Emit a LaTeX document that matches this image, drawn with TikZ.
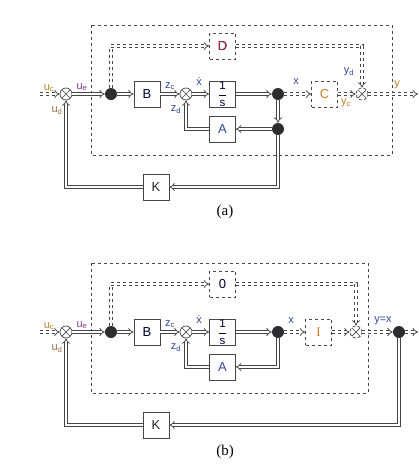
\documentclass[tikz,border=0pt]{standalone}
\usepackage{fontspec}
\setmainfont{Liberation Serif}
\setsansfont{Liberation Sans}
\usepackage{tikz}
\usetikzlibrary{arrows.meta, positioning}
\definecolor{linegray}{RGB}{70,70,70}
\definecolor{dotgray}{RGB}{45,45,48}
\definecolor{lblblue}{RGB}{55,70,150}
\definecolor{lblgold}{RGB}{185,130,40}
\definecolor{lblpurple}{RGB}{125,55,135}
\definecolor{boxred}{RGB}{170,45,60}
\definecolor{boxorange}{RGB}{205,125,35}

\tikzset{
  blk/.style={draw=linegray, line width=0.8pt, minimum size=26pt, inner sep=0pt,
    font=\sffamily\fontsize{13}{15}\selectfont, text=black!80!blue},
  dblk/.style={blk, dashed},
  sumpt/.style={circle, draw=linegray, line width=0.7pt, minimum size=12pt, inner sep=0pt,
    path picture={\draw[linegray, line width=0.7pt, solid]
      (path picture bounding box.north west) -- (path picture bounding box.south east)
      (path picture bounding box.north east) -- (path picture bounding box.south west);}},
  dsumpt/.style={sumpt, densely dashed},
  jdot/.style={circle, fill=dotgray, minimum size=12pt, inner sep=0pt},
  sig/.style={draw=linegray, double=white, double distance=2pt, line width=0.75pt, -{Implies}},
  sigd/.style={sig, dashed},
  lbl/.style={font=\sffamily\fontsize{11}{13}\selectfont, text=lblblue, inner sep=0pt},
}

\begin{document}
\begin{tikzpicture}[x=1pt, y=-1pt]
  \useasboundingbox (0,0) rectangle (419,469);
  \foreach \p/\dy/\dtxt/\bx in {a/0/D/392, b/238/0/368}{
    \begin{scope}[shift={(0,\dy)}]
      \draw[linegray, dashed, line width=0.6pt] (91,25) rectangle (\bx,155);
      \node[sumpt] (su\p) at (66,94) {};
      \node[jdot] (d1\p) at (111,94) {};
      \node[blk] (B\p) at (147,94) {B};
      \node[sumpt] (sz\p) at (186,94) {};
      \node[blk, font=\sffamily\fontsize{11.5}{13}\selectfont] (I\p) at (222.5,94)
        {$\displaystyle\frac{\textsf{1}}{\textsf{s}}$};
      \node[jdot] (d2\p) at (278,94) {};
      \node[blk, text=lblblue] (A\p) at (222.5,129) {A};
      \node[dblk] (D\p) at (222.5,46) {\dtxt};
      \node[blk, text=black!85] (K\p) at (156,187) {K};
      \coordinate (in\p) at (40,94);
      % forward path
      \draw[sigd] (in\p) -- (su\p);
      \draw[sig] (su\p) -- (d1\p);
      \draw[sig] (d1\p) -- (B\p);
      \draw[sig] (B\p) -- (sz\p);
      \draw[sig] (sz\p) -- (I\p);
      \draw[sig] (I\p) -- (d2\p);
      \draw[sig] (A\p.west) -| (sz\p.south);
      \draw[sig] (K\p.west) -| (su\p.south);
      \draw[sigd] (d1\p.north) |- (D\p.west);
      % labels
      \node[lbl, text=lblgold] at (49,88) {u\textsubscript{c}};
      \node[lbl, text=lblpurple] at (82,87) {u\textsubscript{e}};
      \node[lbl, text=lblgold!70!lblblue] at (57,111) {u\textsubscript{d}};
      \node[lbl] at (170,86) {z\textsubscript{c}};
      \node[lbl] at (176,110) {z\textsubscript{d}};
      \node[lbl] at (199,82) {\.x};
    \end{scope}
  }
  % (a)
  \node[dblk, text=boxred] at (Da) {D};
  \node[dblk, text=boxorange] (Ca) at (324.5,94) {C};
  \node[dsumpt] (sya) at (362,94) {};
  \node[jdot] (d3a) at (278,129) {};
  \coordinate (outa) at (418,94);
  \draw[sigd] (d2a) -- (Ca);
  \draw[sigd] (Ca) -- (sya);
  \draw[sigd] (Da.east) -| (sya.north);
  \draw[sigd] (sya) -- (outa);
  \draw[sig] (d2a) -- (d3a);
  \draw[sig] (d3a) -- (Aa);
  \draw[sig] (d3a) |- (Ka);
  \node[lbl] at (296,82) {x};
  \node[lbl] at (349,72) {y\textsubscript{d}};
  \node[lbl, text=lblgold] at (346,103) {y\textsubscript{c}};
  \node[lbl, text=lblgold] at (397,85) {y};
  \node[font=\fontsize{15}{18}\selectfont] (capa) at (225,212) {(a)};
  % (b)
  \node[dblk, text=boxorange] (Cb) at (318.5,332) {\rmfamily I};
  \node[dsumpt] (syb) at (356,332) {};
  \node[jdot] (d3b) at (399,332) {};
  \coordinate (outb) at (418,332);
  \draw[sigd] (d2b) -- (Cb);
  \draw[sigd] (Cb) -- (syb);
  \draw[sigd] (Db.east) -| (syb.north);
  \draw[sigd] (syb) -- (d3b);
  \draw[sigd] (d3b) -- (outb);
  \draw[sig] (d2b) |- (Ab);
  \draw[sig] (d3b) |- (Kb);
  \node[lbl] at (291,321) {x};
  \node[lbl] at (383,321) {y=x};
  \node[font=\fontsize{15}{18}\selectfont] (capb) at (225,452) {(b)};
\end{tikzpicture}
\end{document}
